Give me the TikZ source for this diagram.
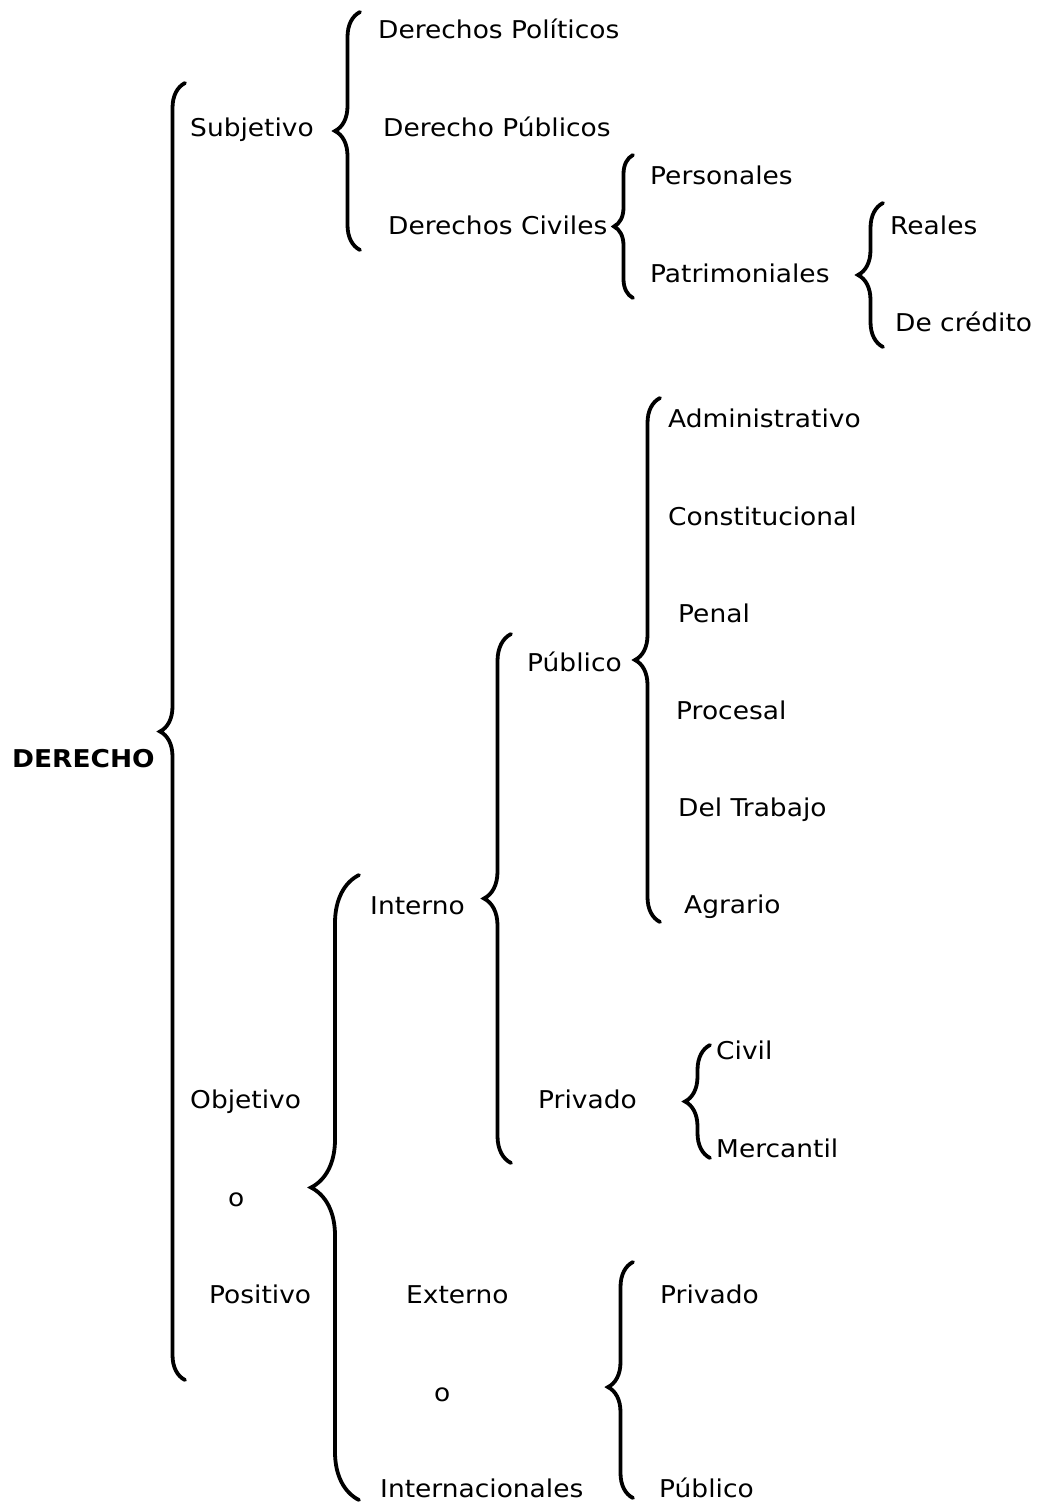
\documentclass[tikz,border=0pt]{standalone}
\usepackage{fontspec}
\setmainfont[FakeStretch=1.08]{DejaVu Sans}
\usepackage{tikz}
\usetikzlibrary{decorations.pathreplacing}

\begin{document}
\begin{tikzpicture}[x=1pt,y=-1pt]
\tikzstyle{lbl}=[anchor=base west, inner sep=0pt, font=\fontsize{24.5}{28}\selectfont]
\tikzstyle{brc}=[decorate, decoration={brace, amplitude=#1}, line width=3.8pt, line cap=round]
\useasboundingbox (0,0) rectangle (1039,1504);

% main branches
\node[lbl, font=\fontsize{24.5}{28}\selectfont\bfseries] (derecho) at (12,767) {DERECHO};
\coordinate (d1) at (185,83);
\coordinate (d2) at (185,1380);
\draw[brc=25] (d2) -- (d1);

\node[lbl] (subj) at (190,136) {Subjetivo};
\node[lbl] (obj) at (190,1108) {Objetivo};
\node[lbl] (o1) at (228,1206) {o};
\node[lbl] (pos) at (209,1303) {Positivo};

% subjetivo
\coordinate (s1) at (360,12);
\coordinate (s2) at (360,250);
\draw[brc=25] (s2) -- (s1);
\node[lbl] (dpol) at (378,39) {Derechos Políticos};
\node[lbl] (dpub) at (383,136) {Derecho Públicos};
\node[lbl] (dciv) at (388,234) {Derechos Civiles};

\coordinate (c1) at (633,155);
\coordinate (c2) at (633,298);
\draw[brc=19] (c2) -- (c1);
\node[lbl] (pers) at (650,184) {Personales};
\node[lbl] (patr) at (650,282) {Patrimoniales};

\coordinate (p1) at (883,203);
\coordinate (p2) at (883,347);
\draw[brc=25] (p2) -- (p1);
\node[lbl] (real) at (890,234) {Reales};
\node[lbl] (cred) at (895,331) {De crédito};

% objetivo
\coordinate (ob1) at (359,875);
\coordinate (ob2) at (359,1500);
\draw[brc=48] (ob2) -- (ob1);
\node[lbl] (intn) at (370,914) {Interno};
\node[lbl] (ext) at (406,1303) {Externo};
\node[lbl] (o2) at (434,1401) {o};
\node[lbl] (intl) at (380,1497) {Internacionales};

\coordinate (i1) at (511,634);
\coordinate (i2) at (511,1163);
\draw[brc=27] (i2) -- (i1);
\node[lbl] (pub) at (527,671) {Público};
\node[lbl] (priv) at (538,1108) {Privado};

\coordinate (u1) at (660,398);
\coordinate (u2) at (660,922);
\draw[brc=25] (u2) -- (u1);
\node[lbl] (adm) at (668,427) {Administrativo};
\node[lbl] (cons) at (668,525) {Constitucional};
\node[lbl] (pen) at (678,622) {Penal};
\node[lbl] (proc) at (676,719) {Procesal};
\node[lbl] (trab) at (678,816) {Del Trabajo};
\node[lbl] (agr) at (684,913) {Agrario};

\coordinate (v1) at (710,1045);
\coordinate (v2) at (710,1158);
\draw[brc=25] (v2) -- (v1);
\node[lbl] (civ) at (716,1059) {Civil};
\node[lbl] (merc) at (716,1157) {Mercantil};

\coordinate (e1) at (633,1262);
\coordinate (e2) at (633,1498);
\draw[brc=25, decoration={aspect=0.47}] (e2) -- (e1);
\node[lbl] (eprv) at (660,1303) {Privado};
\node[lbl] (epub) at (659,1497) {Público};
\end{tikzpicture}
\end{document}
